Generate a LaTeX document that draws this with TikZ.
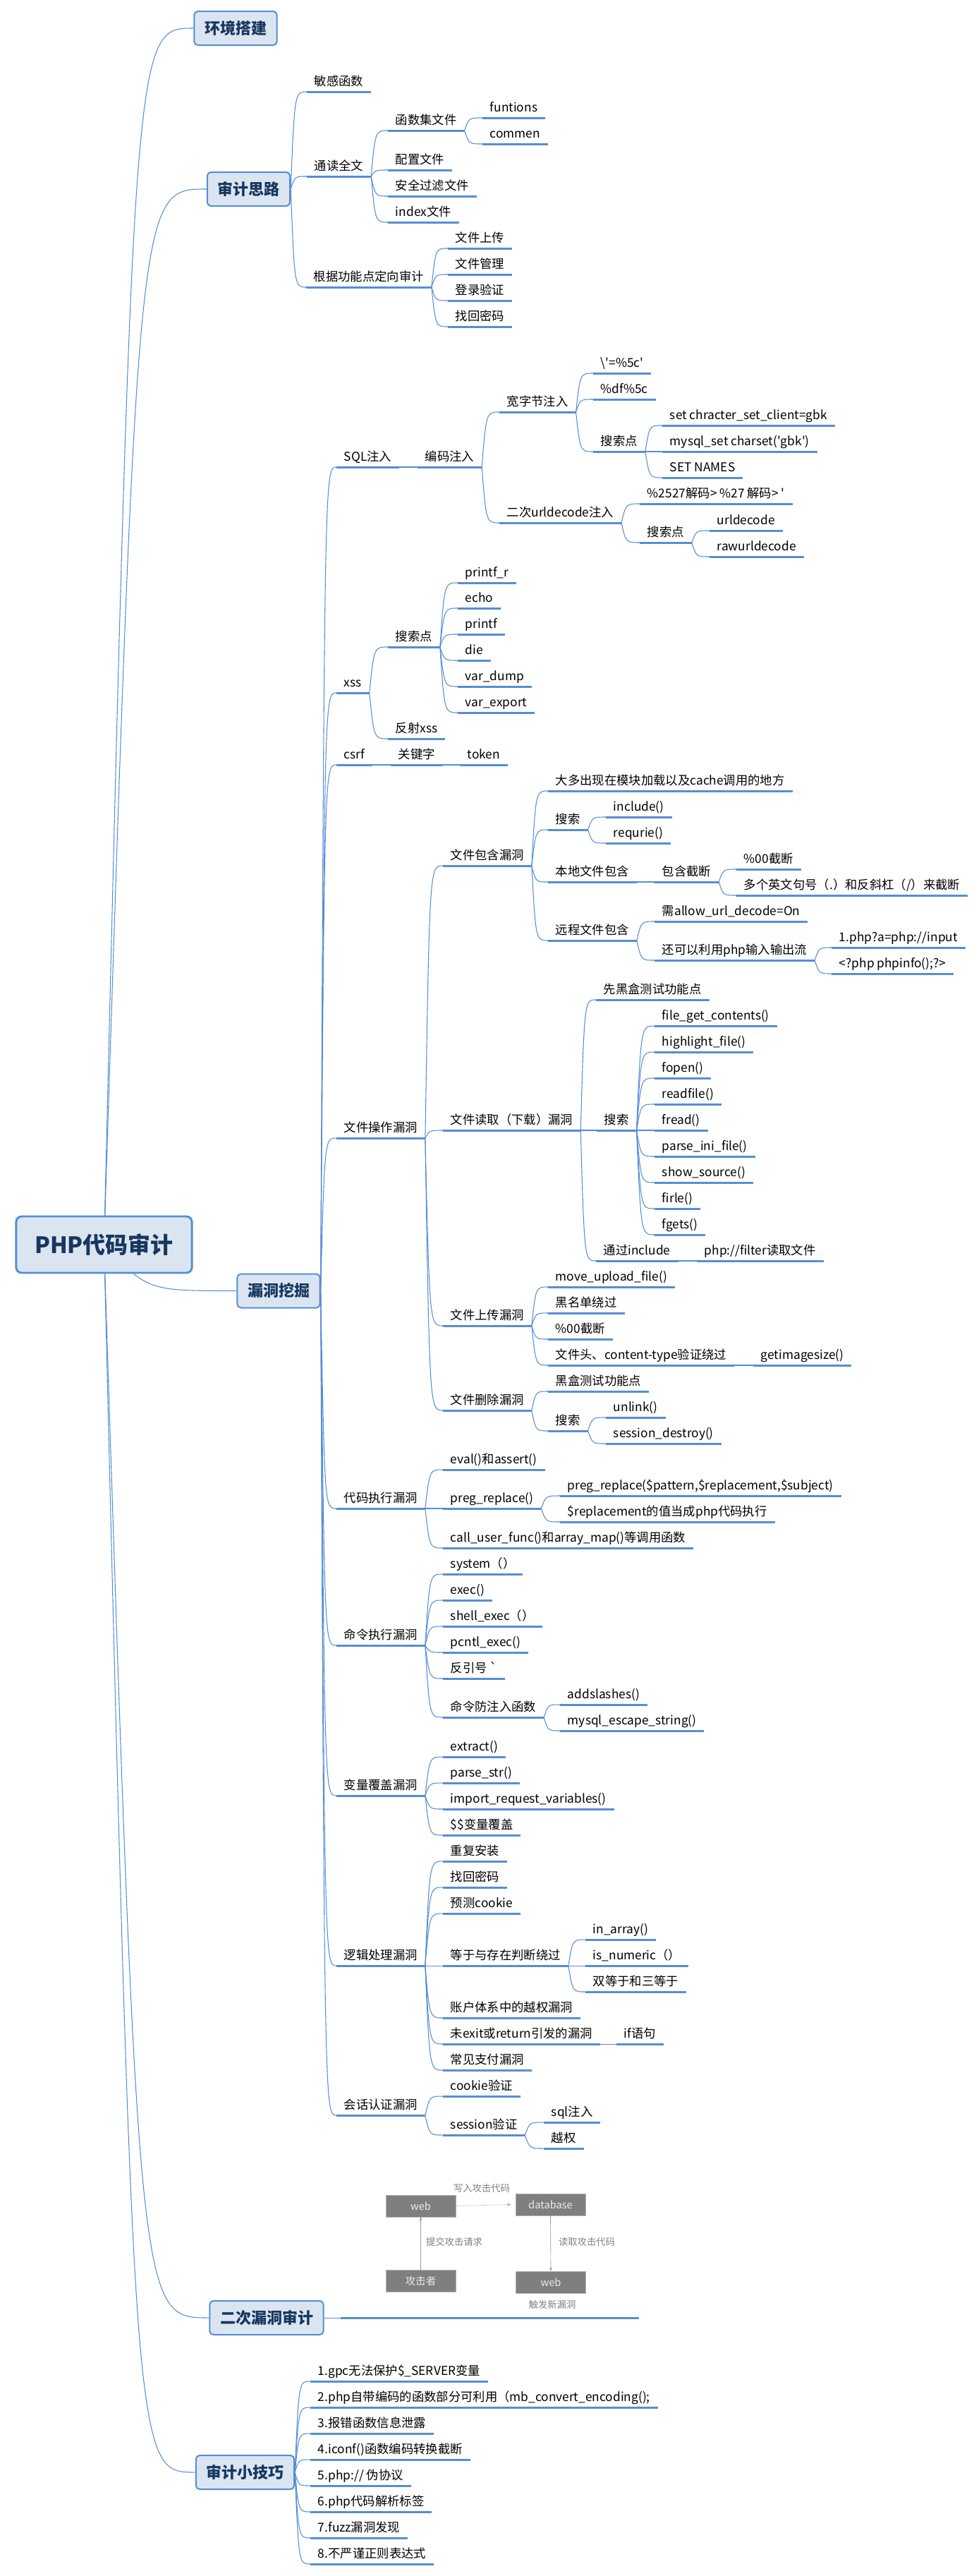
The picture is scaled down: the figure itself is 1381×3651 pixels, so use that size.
\documentclass[tikz,border=0pt]{standalone}
\usepackage{fontspec}
\newfontfamily\cjk{Noto Sans CJK SC}
\usetikzlibrary{calc, arrows.meta}

\definecolor{linec}{HTML}{558ED5}
\definecolor{boxc}{HTML}{DBE5F1}
\definecolor{navy}{HTML}{17375E}
\definecolor{picc}{HTML}{7F7F7F}

\pgfdeclarelayer{bg}
\pgfsetlayers{bg,main}

% curved connector: #1 = bend factor, #2 = from, #3 = to
\newcommand\lnk[3]{\draw[conn] let \p1=(#2), \p2=(#3) in (\p1) .. controls ({\x1+#1*(\x2-\x1)},\y2) .. (\p2);}
% topic to topic, underline end to underline start
\newcommand\tlnk[2]{\lnk{.25}{#1.south east}{#2.south west}}

\begin{document}
\begin{tikzpicture}[
    x=0.75pt, y=-0.75pt,
    conn/.style={draw=linec, line width=0.8pt},
    uline/.style={draw=linec, line width=2.25pt},
    topic/.style={
        font=\cjk\fontsize{13}{15}\selectfont,
        anchor=south west, inner xsep=8pt, inner ysep=3pt,
        text height=10.5pt, text depth=3.2pt,
        append after command={(\tikzlastnode.south west) edge[uline] (\tikzlastnode.south east)}
    },
    branch/.style={
        draw=linec, fill=boxc, line width=1.5pt, rounded corners=4pt,
        text=navy, font=\cjk\bfseries\fontsize{16.5}{20}\selectfont,
        minimum height=36pt, inner xsep=11pt
    },
    rootbox/.style={
        draw=linec, fill=boxc, line width=2.2pt, rounded corners=6pt,
        text=navy, font=\cjk\bfseries\fontsize{24}{28}\selectfont,
        minimum width=187pt, minimum height=60pt
    },
    picbox/.style={fill=picc, draw=gray!60, minimum width=74pt, minimum height=23pt,
        text=white!92!black, font=\cjk\fontsize{11}{13}\selectfont},
    piclabel/.style={text=gray, font=\cjk\fontsize{10}{12}\selectfont},
    picline/.style={draw=gray!80, line width=0.5pt}
]
\useasboundingbox (0,0) rectangle (1381,3651);

% root and main branches
\node[rootbox] (root) at (147.5,1764) {PHP代码审计};
\node[branch] (hj) at (334,40) {环境搭建};
\node[branch] (sl) at (352.5,268) {审计思路};
\node[branch] (wj) at (395,1829.5) {漏洞挖掘};
\node[branch] (ec) at (378,3285) {二次漏洞审计};
\node[branch] (jq) at (347.5,3504) {审计小技巧};

% 审计思路
\node[topic] (mg) at (435,130) {敏感函数};
\node[topic] (tdqw) at (435,250) {通读全文};
\node[topic] (hsj) at (550,185) {函数集文件};
\node[topic] (fun) at (684,167) {funtions};
\node[topic] (com) at (684,204) {commen};
\node[topic] (pz) at (550,241) {配置文件};
\node[topic] (aq) at (550,278) {安全过滤文件};
\node[topic] (idx) at (550,315) {index文件};
\node[topic] (gj) at (434,407) {根据功能点定向审计};
\node[topic] (up) at (635,352) {文件上传};
\node[topic] (gl) at (635,389) {文件管理};
\node[topic] (dl) at (635,426) {登录验证};
\node[topic] (zh) at (635,463) {找回密码};

% SQL注入
\node[topic] (sql) at (477,662) {SQL注入};
\node[topic] (bm) at (592,662) {编码注入};
\node[topic] (kzj) at (708,584) {宽字节注入};
\node[topic] (k1) at (841,529) {\textbackslash'=\%5c'};
\node[topic] (k2) at (841,566) {\%df\%5c};
\node[topic] (kss) at (841,640) {搜索点};
\node[topic] (s1) at (939,603) {set chracter\_set\_client=gbk};
\node[topic] (s2) at (939,640) {mysql\_set charset('gbk')};
\node[topic] (s3) at (939,677) {SET NAMES};
\node[topic] (ecu) at (708,741) {二次urldecode注入};
\node[topic] (e1) at (907,714) {\%2527解码> \%27 解码> '};
\node[topic] (ess) at (907,769) {搜索点};
\node[topic] (u1) at (1006,752) {urldecode};
\node[topic] (u2) at (1006,789) {rawurldecode};

% xss, csrf
\node[topic] (xss) at (477,982) {xss};
\node[topic] (xsd) at (550,917) {搜索点};
\node[topic] (x1) at (649,826) {printf\_r};
\node[topic] (x2) at (649,862) {echo};
\node[topic] (x3) at (649,899) {printf};
\node[topic] (x4) at (649,936) {die};
\node[topic] (x5) at (649,973) {var\_dump};
\node[topic] (x6) at (649,1010) {var\_export};
\node[topic] (fsx) at (550,1047) {反射xss};
\node[topic] (csrf) at (477,1084) {csrf};
\node[topic] (gjz) at (554,1084) {关键字};
\node[topic] (tok) at (652,1084) {token};

% 文件操作漏洞
\node[topic] (wjcz) at (477,1613) {文件操作漏洞};
\node[topic] (bh) at (628,1227) {文件包含漏洞};
\node[topic] (bh1) at (777,1121) {大多出现在模块加载以及cache调用的地方};
\node[topic] (bhs) at (777,1176) {搜索};
\node[topic] (inc) at (859,1158) {include()};
\node[topic] (req) at (859,1195) {requrie()};
\node[topic] (bd) at (777,1250) {本地文件包含};
\node[topic] (bhjd) at (928,1250) {包含截断};
\node[topic] (jd1) at (1044,1232) {\%00截断};
\node[topic] (jd2) at (1044,1269) {多个英文句号（.）和反斜杠（/）来截断};
\node[topic] (yc) at (777,1333) {远程文件包含};
\node[topic] (yc1) at (928,1306) {需allow\_url\_decode=On};
\node[topic] (yc2) at (928,1361) {还可以利用php输入输出流};
\node[topic] (io1) at (1179,1343) {1.php?a=php://input};
\node[topic] (io2) at (1179,1380) {<?php phpinfo();?>};
\node[topic] (dq) at (628,1602) {文件读取（下载）漏洞};
\node[topic] (hh) at (845,1417) {先黑盒测试功能点};
\node[topic] (dqs) at (846,1602) {搜索};
\foreach \n [count=\i] in {file\_get\_contents(), highlight\_file(), fopen(), readfile(), fread(), parse\_ini\_file(), show\_source(), firle(), fgets()}
  \node[topic] (r\i) at (928,{1417+37*\i}) {\n};
\node[topic] (tg) at (845,1787) {通过include};
\node[topic] (flt) at (988,1787) {php://filter读取文件};
\node[topic] (scl) at (628,1879) {文件上传漏洞};
\node[topic] (mu) at (777,1824) {move\_upload\_file()};
\node[topic] (hmd) at (777,1861) {黑名单绕过};
\node[topic] (sc00) at (777,1898) {\%00截断};
\node[topic] (wjt) at (777,1935) {文件头、content-type验证绕过};
\node[topic] (gis) at (1068,1935) {getimagesize()};
\node[topic] (sccl) at (628,1999) {文件删除漏洞};
\node[topic] (hh2) at (777,1972) {黑盒测试功能点};
\node[topic] (scs) at (777,2028) {搜索};
\node[topic] (ul) at (859,2009) {unlink()};
\node[topic] (sd) at (859,2046) {session\_destroy()};

% 代码执行漏洞
\node[topic] (dmzx) at (477,2138) {代码执行漏洞};
\node[topic] (eval) at (628,2083) {eval()和assert()};
\node[topic] (preg) at (628,2138) {preg\_replace()};
\node[topic] (pr1) at (794,2120) {preg\_replace(\$pattern,\$replacement,\$subject)};
\node[topic] (pr2) at (794,2157) {\$replacement的值当成php代码执行};
\node[topic] (cuf) at (628,2194) {call\_user\_func()和array\_map()等调用函数};

% 命令执行漏洞
\node[topic] (mlzx) at (477,2332) {命令执行漏洞};
\node[topic] (c1) at (628,2231) {system（）};
\node[topic] (c2) at (628,2268) {exec()};
\node[topic] (c3) at (628,2305) {shell\_exec（）};
\node[topic] (c4) at (628,2342) {pcntl\_exec()};
\node[topic] (c5) at (628,2379) {反引号 `};
\node[topic] (fzr) at (628,2434) {命令防注入函数};
\node[topic] (asl) at (794,2416) {addslashes()};
\node[topic] (mes) at (794,2453) {mysql\_escape\_string()};

% 变量覆盖漏洞
\node[topic] (blfg) at (477,2545) {变量覆盖漏洞};
\node[topic] (v1) at (628,2490) {extract()};
\node[topic] (v2) at (628,2527) {parse\_str()};
\node[topic] (v3) at (628,2564) {import\_request\_variables()};
\node[topic] (v4) at (628,2601) {\$\$变量覆盖};

% 逻辑处理漏洞
\node[topic] (ljcl) at (477,2786) {逻辑处理漏洞};
\node[topic] (l1) at (628,2638) {重复安装};
\node[topic] (l2) at (628,2675) {找回密码};
\node[topic] (l3) at (628,2712) {预测cookie};
\node[topic] (dyy) at (628,2786) {等于与存在判断绕过};
\node[topic] (d1) at (830,2749) {in\_array()};
\node[topic] (d2) at (830,2786) {is\_numeric（）};
\node[topic] (d3) at (830,2823) {双等于和三等于};
\node[topic] (l4) at (628,2860) {账户体系中的越权漏洞};
\node[topic] (wexit) at (628,2897) {未exit或return引发的漏洞};
\node[topic] (ify) at (874,2897) {if语句};
\node[topic] (l5) at (628,2934) {常见支付漏洞};

% 会话认证漏洞
\node[topic] (hhrz) at (477,2998) {会话认证漏洞};
\node[topic] (ck) at (628,2971) {cookie验证};
\node[topic] (sess) at (628,3026) {session验证};
\node[topic] (ss1) at (771,3008) {sql注入};
\node[topic] (ss2) at (771,3045) {越权};

% 二次漏洞审计: picture topic
\node[topic, minimum width=317pt, minimum height=144pt] (img) at (483,3285) {};
\node[picbox] (web1) at (596.5,3126.5) {web};
\node[picbox] (db) at (780.5,3124.5) {database};
\node[picbox] (atk) at (596.5,3233) {攻击者};
\node[picbox] (web2) at (781,3234.5) {web};
\node[piclabel] (lw) at (683,3101) {写入攻击代码};
\node[piclabel] (lt) at (644,3177) {提交攻击请求};
\node[piclabel] (lr) at (832,3177) {读取攻击代码};
\node[piclabel] (lc) at (783,3266) {触发新漏洞};
\draw[picline, densely dotted, -{Stealth[length=4pt,width=3pt]}] (web1.east) -- ([xshift=-5pt]db.west);
\draw[picline, -{Stealth[length=4pt,width=3pt]}] (atk.north) -- (web1.south);
\draw[picline, -{Stealth[length=4pt,width=3pt]}] (db.south) -- (web2.north);

% 审计小技巧
\node[topic] (t1) at (440,3375) {1.gpc无法保护\$\_SERVER变量};
\node[topic] (t2) at (440,3412) {2.php自带编码的函数部分可利用（mb\_convert\_encoding();};
\node[topic] (t3) at (440,3449) {3.报错函数信息泄露};
\node[topic] (t4) at (440,3486) {4.iconf()函数编码转换截断};
\node[topic] (t5) at (440,3523) {5.php:// 伪协议};
\node[topic] (t6) at (440,3560) {6.php代码解析标签};
\node[topic] (t7) at (440,3597) {7.fuzz漏洞发现};
\node[topic] (t8) at (440,3634) {8.不严谨正则表达式};

% connectors from the root, behind its box
\begin{pgfonlayer}{bg}
  \foreach \b in {hj,sl,wj,ec,jq} \lnk{.33}{root.center}{\b.west};
\end{pgfonlayer}

% connectors from the main branches
\foreach \c in {mg,tdqw,gj} \lnk{.25}{sl.east}{\c.south west};
\foreach \c in {sql,xss,csrf,wjcz,dmzx,mlzx,blfg,ljcl,hhrz} \lnk{.25}{wj.east}{\c.south west};
\lnk{.25}{ec.east}{img.south west};
\foreach \i in {1,...,8} \lnk{.25}{jq.east}{t\i.south west};

% connectors between topics
\foreach \c in {hsj,pz,aq,idx} \tlnk{tdqw}{\c};
\foreach \c in {fun,com} \tlnk{hsj}{\c};
\foreach \c in {up,gl,dl,zh} \tlnk{gj}{\c};
\tlnk{sql}{bm};
\foreach \c in {kzj,ecu} \tlnk{bm}{\c};
\foreach \c in {k1,k2,kss} \tlnk{kzj}{\c};
\foreach \c in {s1,s2,s3} \tlnk{kss}{\c};
\foreach \c in {e1,ess} \tlnk{ecu}{\c};
\foreach \c in {u1,u2} \tlnk{ess}{\c};
\foreach \c in {xsd,fsx} \tlnk{xss}{\c};
\foreach \i in {1,...,6} \tlnk{xsd}{x\i};
\tlnk{csrf}{gjz};
\tlnk{gjz}{tok};
\foreach \c in {bh,dq,scl,sccl} \tlnk{wjcz}{\c};
\foreach \c in {bh1,bhs,bd,yc} \tlnk{bh}{\c};
\foreach \c in {inc,req} \tlnk{bhs}{\c};
\tlnk{bd}{bhjd};
\foreach \c in {jd1,jd2} \tlnk{bhjd}{\c};
\foreach \c in {yc1,yc2} \tlnk{yc}{\c};
\foreach \c in {io1,io2} \tlnk{yc2}{\c};
\foreach \c in {hh,dqs,tg} \tlnk{dq}{\c};
\foreach \i in {1,...,9} \tlnk{dqs}{r\i};
\tlnk{tg}{flt};
\foreach \c in {mu,hmd,sc00,wjt} \tlnk{scl}{\c};
\tlnk{wjt}{gis};
\foreach \c in {hh2,scs} \tlnk{sccl}{\c};
\foreach \c in {ul,sd} \tlnk{scs}{\c};
\foreach \c in {eval,preg,cuf} \tlnk{dmzx}{\c};
\foreach \c in {pr1,pr2} \tlnk{preg}{\c};
\foreach \c in {c1,c2,c3,c4,c5,fzr} \tlnk{mlzx}{\c};
\foreach \c in {asl,mes} \tlnk{fzr}{\c};
\foreach \i in {1,...,4} \tlnk{blfg}{v\i};
\foreach \c in {l1,l2,l3,dyy,l4,wexit,l5} \tlnk{ljcl}{\c};
\foreach \c in {d1,d2,d3} \tlnk{dyy}{\c};
\tlnk{wexit}{ify};
\foreach \c in {ck,sess} \tlnk{hhrz}{\c};
\foreach \c in {ss1,ss2} \tlnk{sess}{\c};

\end{tikzpicture}
\end{document}
